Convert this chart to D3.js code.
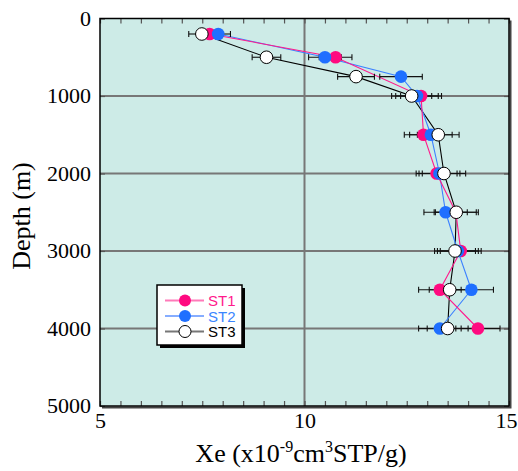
<!DOCTYPE html>
<html lang="en">
<head>
<meta charset="utf-8">
<title>Xe depth profile</title>
<script src="https://d3js.org/d3.v7.min.js"></script>
<style>
  body { margin: 0; background: #fff; }
</style>
</head>
<body>
<svg id="chart" width="518" height="471" font-family="Liberation Serif, Times New Roman, serif"></svg>
<script>
// depth of each sample (m)
var depths = [200, 500, 750, 1000, 1500, 2000, 2500, 3000, 3500, 4000];
// Xe concentration (x10^-9 cm3STP/g), null = no sample
var st1 = [7.68, 10.76, null, 12.85, 12.91, 13.23, 13.70, 13.82, 13.31, 14.24];
var st2 = [7.89, 10.50, 12.36, 12.75, 13.09, 13.30, 13.45, 13.75, 14.08, 13.31];
var st3 = [7.49, 9.07, 11.26, 12.62, 13.27, 13.41, 13.71, 13.68, 13.55, 13.50];
// error (±)
var st1Err = [0.30, 0.40, null, 0.50, 0.47, 0.50, 0.50, 0.50, 0.52, 0.54];
var st2Err = [0.30, 0.40, 0.52, 0.52, 0.52, 0.50, 0.53, 0.50, 0.54, 0.52];
var st3Err = [0.32, 0.35, 0.45, 0.49, 0.51, 0.53, 0.54, 0.50, 0.50, 0.50];
var seriesNames = ["ST1", "ST2", "ST3"];
var xTickLabels = [5, 10, 15];
var yTickLabels = [0, 1000, 2000, 3000, 4000, 5000];

var svg = d3.select("#chart");
var pLeft = 100, pRight = 509, pTop = 18.5, pBottom = 406;

var x = d3.scaleLinear().domain([5, 15]).range([pLeft, pRight]);
var y = d3.scaleLinear().domain([0, 5000]).range([pTop, pBottom]);

var series = [
  {name: seriesNames[0], vals: st1, err: st1Err, fill: "#ff0a80", line: "#ff1a8c", legendLine: "#ff7ab9", text: "#ff1a8c"},
  {name: seriesNames[1], vals: st2, err: st2Err, fill: "#1f6fff", line: "#3b80ff", legendLine: "#86adff", text: "#3b86ff"},
  {name: seriesNames[2], vals: st3, err: st3Err, fill: "#ffffff", line: "#000000", legendLine: "#777777", text: "#000000"}
];
series.forEach(function (s) {
  s.points = depths.map(function (d, i) {
    return {depth: d, v: s.vals[i], e: s.err[i]};
  }).filter(function (p) { return p.v != null; });
});

// plot background
svg.append("rect")
  .attr("x", pLeft).attr("y", pTop)
  .attr("width", pRight - pLeft).attr("height", pBottom - pTop)
  .attr("fill", "#cdebe7");

// grid lines
svg.append("line")
  .attr("x1", x(10)).attr("x2", x(10))
  .attr("y1", pTop).attr("y2", pBottom)
  .attr("stroke", "#777").attr("stroke-width", 2);
svg.selectAll(".hgrid")
  .data([1000, 2000, 3000, 4000])
  .enter().append("line")
  .attr("class", "hgrid")
  .attr("x1", pLeft).attr("x2", pRight)
  .attr("y1", function (d) { return y(d); })
  .attr("y2", function (d) { return y(d); })
  .attr("stroke", "#777").attr("stroke-width", 2);

// minor ticks (inward)
var minor = d3.range(5, 15.01, 0.5);
function styleTicks(g) {
  g.select(".domain").remove();
  g.selectAll(".tick line").attr("stroke", "#555").attr("stroke-width", 1.2);
  g.selectAll(".tick text").remove();
}
svg.append("g").attr("transform", "translate(0," + pBottom + ")")
  .call(d3.axisBottom(x).tickValues(minor).tickSize(-5)).call(styleTicks);
svg.append("g").attr("transform", "translate(0," + pTop + ")")
  .call(d3.axisTop(x).tickValues(minor).tickSize(-5)).call(styleTicks);
svg.append("g").attr("transform", "translate(" + pLeft + ",0)")
  .call(d3.axisLeft(y).tickValues(yTickLabels).tickSize(-5)).call(styleTicks);
svg.append("g").attr("transform", "translate(" + pRight + ",0)")
  .call(d3.axisRight(y).tickValues(yTickLabels).tickSize(-5)).call(styleTicks);

// frame with shadow
svg.append("path")
  .attr("d", "M" + (pRight + 1.5) + "," + (pTop + 2) + "V" + (pBottom + 1.5) + "H" + (pLeft + 2))
  .attr("fill", "none").attr("stroke", "#444").attr("stroke-width", 2);
svg.append("rect")
  .attr("x", pLeft).attr("y", pTop)
  .attr("width", pRight - pLeft).attr("height", pBottom - pTop)
  .attr("fill", "none").attr("stroke", "#000").attr("stroke-width", 1.5);

// tick labels
var xLab = svg.append("g").attr("transform", "translate(0," + (pBottom + 5) + ")")
  .call(d3.axisBottom(x).tickValues(xTickLabels).tickSize(0).tickPadding(0));
xLab.select(".domain").remove();
xLab.selectAll("text")
  .attr("font-family", "Liberation Serif, serif").attr("font-size", 22)
  .attr("fill", "#000").attr("dy", "0.75em");
xLab.selectAll(".tick").filter(function (d) { return d === 15; })
  .select("text").attr("dx", -3);

var yLab = svg.append("g").attr("transform", "translate(" + (pLeft - 9) + ",0)")
  .call(d3.axisLeft(y).tickValues(yTickLabels).tickFormat(d3.format("d")).tickSize(0).tickPadding(0));
yLab.select(".domain").remove();
yLab.selectAll("text")
  .attr("font-family", "Liberation Serif, serif").attr("font-size", 22)
  .attr("fill", "#000").attr("dy", "0.3em");

// axis titles
var xt = svg.append("text")
  .attr("x", 301).attr("y", 462)
  .attr("text-anchor", "middle")
  .attr("font-size", 26).attr("fill", "#000");
xt.append("tspan").text("Xe (x10");
xt.append("tspan").attr("dy", -10).attr("font-size", 16).text("-9");
xt.append("tspan").attr("dy", 10).text("cm");
xt.append("tspan").attr("dy", -10).attr("font-size", 16).text("3");
xt.append("tspan").attr("dy", 10).text("STP/g)");

svg.append("text")
  .attr("transform", "translate(30,216) rotate(-90)")
  .attr("text-anchor", "middle")
  .attr("font-size", 26).attr("fill", "#000")
  .text("Depth (m)");

// connecting lines
var line = d3.line()
  .x(function (p) { return x(p.v); })
  .y(function (p) { return y(p.depth); });
series.slice().reverse().forEach(function (s) {
  svg.append("path")
    .datum(s.points)
    .attr("d", line)
    .attr("fill", "none")
    .attr("stroke", s.line)
    .attr("stroke-width", 1.1);
});

// error bars
series.forEach(function (s) {
  var g = svg.append("g").attr("stroke", "#111").attr("stroke-width", 1.1);
  g.selectAll(".bar").data(s.points).enter().append("line")
    .attr("x1", function (p) { return x(p.v - p.e); })
    .attr("x2", function (p) { return x(p.v + p.e); })
    .attr("y1", function (p) { return y(p.depth); })
    .attr("y2", function (p) { return y(p.depth); });
  [-1, 1].forEach(function (sgn) {
    g.selectAll(".cap" + sgn).data(s.points).enter().append("line")
      .attr("x1", function (p) { return x(p.v + sgn * p.e); })
      .attr("x2", function (p) { return x(p.v + sgn * p.e); })
      .attr("y1", function (p) { return y(p.depth) - 3; })
      .attr("y2", function (p) { return y(p.depth) + 3; });
  });
});

// markers
series.forEach(function (s) {
  svg.selectAll(".m-" + s.name).data(s.points).enter().append("circle")
    .attr("cx", function (p) { return x(p.v); })
    .attr("cy", function (p) { return y(p.depth); })
    .attr("r", 6.3)
    .attr("fill", s.fill)
    .attr("stroke", s.name === "ST3" ? "#000" : "none")
    .attr("stroke-width", 1);
});

// legend
var lg = svg.append("g").attr("transform", "translate(157,285)");
lg.append("rect").attr("x", 3).attr("y", 3).attr("width", 85).attr("height", 60).attr("fill", "#000");
lg.append("rect").attr("x", 0).attr("y", 0).attr("width", 85).attr("height", 60)
  .attr("fill", "#fff").attr("stroke", "#000").attr("stroke-width", 1.5);
var rows = lg.selectAll(".row").data(series).enter().append("g")
  .attr("transform", function (s, i) { return "translate(0," + (15.5 + i * 15.5) + ")"; });
rows.append("line").attr("x1", 8).attr("x2", 47).attr("y1", 0).attr("y2", 0)
  .attr("stroke", function (s) { return s.legendLine; }).attr("stroke-width", 2);
rows.append("circle").attr("cx", 28).attr("cy", 0).attr("r", 6)
  .attr("fill", function (s) { return s.fill; })
  .attr("stroke", function (s) { return s.name === "ST3" ? "#000" : "none"; });
rows.append("text").attr("x", 51).attr("y", 5.5)
  .attr("font-family", "Liberation Sans, Arial, sans-serif").attr("font-size", 15)
  .attr("fill", function (s) { return s.text; })
  .text(function (s) { return s.name; });
</script>
</body>
</html>
